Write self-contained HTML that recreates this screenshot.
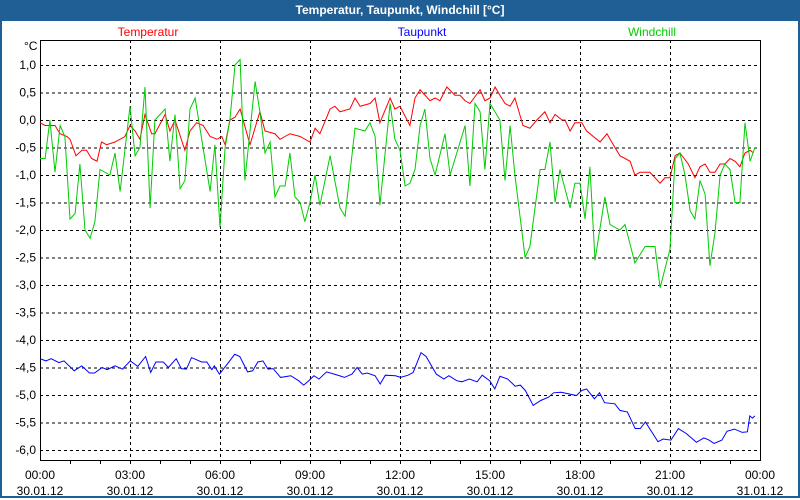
<!DOCTYPE html>
<html><head><meta charset="utf-8"><style>
body{margin:0;width:800px;height:500px;overflow:hidden;background:#fff;font-family:"Liberation Sans",sans-serif}
#frame{position:absolute;left:0;top:0;width:796px;height:496px;border:2px solid #1f5f96;border-top:none}
#titlebar{position:absolute;left:0;top:0;width:800px;height:21px;background:#1f5f96;color:#fff;font-weight:bold;font-size:12px;text-align:center;line-height:21px}
svg{position:absolute;left:0;top:0}
</style></head><body>
<div id="frame"></div>
<div id="titlebar">Temperatur, Taupunkt, Windchill [°C]</div>
<svg id="chart" width="800" height="500"></svg>
<script>
const yTicks=[1.0,0.5,0.0,-0.5,-1.0,-1.5,-2.0,-2.5,-3.0,-3.5,-4.0,-4.5,-5.0,-5.5,-6.0];
const xTickHours=[0,3,6,9,12,15,18,21,24];
const xTickTimes=["00:00","03:00","06:00","09:00","12:00","15:00","18:00","21:00","00:00"];
const xTickDates=["30.01.12","30.01.12","30.01.12","30.01.12","30.01.12","30.01.12","30.01.12","30.01.12","31.01.12"];
const seriesNames=["Temperatur","Taupunkt","Windchill"];
const tempT=[0,0.17,0.5,0.67,0.9,1,1.2,1.4,1.55,1.72,1.9,2.05,2.22,2.5,2.83,3,3.17,3.33,3.5,3.72,3.83,4.17,4.33,4.5,4.83,5,5.22,5.44,5.67,5.9,6.06,6.17,6.33,6.5,6.67,7,7.33,7.5,7.83,8,8.33,8.67,9,9.17,9.33,9.67,9.83,10,10.33,10.5,10.67,11,11.17,11.33,11.67,11.83,12,12.33,12.5,12.67,13,13.17,13.33,13.56,13.83,14,14.17,14.33,14.67,14.83,15,15.17,15.33,15.5,15.67,15.83,16.1,16.33,16.56,16.83,17,17.17,17.4,17.5,17.67,17.83,18.06,18.22,18.67,18.9,19.11,19.33,19.67,19.83,20,20.33,20.67,20.83,21,21.17,21.33,21.61,21.83,22,22.17,22.33,22.5,22.67,22.83,23,23.17,23.33,23.5,23.67,23.78];
const tempV=[-0.05,-0.1,-0.1,-0.25,-0.3,-0.35,-0.65,-0.55,-0.55,-0.7,-0.75,-0.4,-0.45,-0.4,-0.3,-0.1,-0.2,-0.35,0.1,-0.25,-0.25,0.1,-0.2,0,-0.55,-0.2,-0.05,-0.1,-0.3,-0.35,-0.3,-0.45,0,0.05,0.2,-0.45,0.15,-0.2,-0.25,-0.35,-0.25,-0.3,-0.4,-0.15,-0.25,0.2,0.25,0.15,0.2,0.4,0.25,0.3,0.4,-0.05,0.4,0.2,0.25,-0.1,0.4,0.55,0.35,0.4,0.35,0.6,0.45,0.45,0.35,0.3,0.55,0.35,0.4,0.6,0.45,0.3,0.25,0.4,-0.1,-0.15,0,0.15,-0.05,0.1,0,0,-0.2,-0.05,-0.05,-0.2,-0.4,-0.25,-0.45,-0.65,-0.75,-1.0,-0.95,-0.95,-1.15,-1.05,-1.05,-0.65,-0.6,-0.8,-1.05,-0.85,-0.8,-0.95,-0.95,-0.8,-0.8,-0.7,-0.75,-0.85,-0.6,-0.55,-0.6];
const dewT=[0,0.2,0.37,0.63,0.8,1.14,1.39,1.65,1.82,2.07,2.24,2.5,2.75,3.01,3.26,3.52,3.69,3.86,4.11,4.28,4.54,4.71,4.88,5.05,5.39,5.56,5.73,5.81,5.98,6.24,6.49,6.66,6.92,7.09,7.26,7.43,7.6,7.77,8.02,8.36,8.62,8.79,8.96,9.13,9.3,9.55,9.81,10.15,10.4,10.57,10.74,10.91,11.17,11.34,11.51,11.85,12.02,12.27,12.44,12.7,12.87,13.21,13.46,13.63,13.89,14.06,14.31,14.57,14.74,14.99,15.16,15.33,15.59,15.84,16.01,16.18,16.44,16.69,16.95,17.12,17.37,17.63,17.88,18.05,18.22,18.48,18.65,18.82,19.16,19.33,19.58,19.84,20.01,20.18,20.6,20.77,21.03,21.28,21.54,21.88,22.13,22.3,22.47,22.73,22.9,23.15,23.41,23.58,23.66,23.75,23.83];
const dewV=[-4.34,-4.38,-4.34,-4.41,-4.38,-4.56,-4.47,-4.6,-4.6,-4.5,-4.54,-4.47,-4.53,-4.38,-4.48,-4.3,-4.59,-4.4,-4.4,-4.5,-4.34,-4.52,-4.53,-4.32,-4.4,-4.4,-4.54,-4.47,-4.62,-4.44,-4.26,-4.3,-4.58,-4.56,-4.4,-4.38,-4.53,-4.52,-4.68,-4.65,-4.74,-4.82,-4.74,-4.65,-4.71,-4.58,-4.62,-4.68,-4.62,-4.5,-4.62,-4.6,-4.65,-4.8,-4.64,-4.65,-4.68,-4.64,-4.59,-4.23,-4.3,-4.62,-4.71,-4.65,-4.74,-4.76,-4.71,-4.76,-4.64,-4.74,-4.89,-4.66,-4.71,-4.84,-4.82,-4.92,-5.19,-5.1,-5.04,-4.96,-4.95,-4.98,-5.01,-4.92,-4.89,-5.07,-4.96,-5.14,-5.16,-5.28,-5.31,-5.61,-5.61,-5.49,-5.85,-5.8,-5.82,-5.61,-5.7,-5.86,-5.78,-5.82,-5.88,-5.82,-5.66,-5.62,-5.68,-5.67,-5.38,-5.42,-5.38];
const windT=[0,0.17,0.33,0.5,0.67,0.83,1,1.17,1.33,1.5,1.67,1.83,2,2.33,2.5,2.67,3,3.17,3.33,3.5,3.67,3.83,4.17,4.33,4.5,4.67,4.83,5,5.17,5.67,5.83,6,6.17,6.33,6.5,6.67,6.83,7.17,7.33,7.5,7.67,7.83,8,8.17,8.33,8.5,8.67,8.83,9,9.17,9.33,9.67,10,10.17,10.5,10.83,11,11.17,11.33,11.67,11.83,12,12.17,12.33,12.5,12.67,12.83,13,13.17,13.5,13.67,14.17,14.33,14.5,14.67,14.83,15,15.33,15.5,15.67,15.83,16.17,16.33,16.67,16.83,17,17.17,17.33,17.67,17.83,18,18.17,18.33,18.5,18.83,19,19.33,19.5,19.83,20.17,20.5,20.67,21,21.17,21.33,21.5,21.67,21.83,22,22.17,22.33,22.5,22.67,22.83,23,23.17,23.33,23.5,23.67,23.83];
const windV=[-0.7,-0.7,0,-0.95,-0.1,-0.3,-1.8,-1.7,-0.8,-2.0,-2.15,-1.85,-0.9,-1.0,-0.6,-1.3,0.25,-0.65,-0.5,0.6,-1.6,0,0.2,-0.75,0.1,-1.25,-1.1,0.2,0.4,-1.3,-0.45,-1.95,-0.5,0,1.0,1.1,-1.1,0.7,0.15,-0.6,-0.4,-1.4,-1.2,-1.2,-0.6,-1.4,-1.5,-1.85,-1.5,-1.0,-1.55,-0.65,-1.6,-1.75,-0.15,-0.2,-0.05,-0.3,-1.55,0.3,-0.35,-0.55,-1.2,-1.15,-0.9,-0.1,0.2,-0.7,-1.0,-0.25,-1.0,-0.1,-1.2,0.3,0.15,-0.9,0.3,0,-1.1,-0.1,-1.0,-2.5,-2.3,-0.9,-0.9,-0.4,-1.5,-0.9,-1.6,-1.15,-1.15,-1.8,-0.85,-2.55,-1.4,-1.9,-2.0,-1.9,-2.6,-2.3,-2.3,-3.05,-2.35,-0.7,-0.6,-1.0,-1.65,-1.8,-1.1,-1.35,-2.65,-2.05,-1.0,-0.8,-0.9,-1.5,-1.5,-0.05,-0.75,-0.5];

const NS="http://www.w3.org/2000/svg";
const svg=document.getElementById('chart');
const L=40,R=760,T=40,B=460;
const xs=h=>L+h*(R-L)/24;
const ys=v=>120-v*55;
function mk(tag,attrs,parent){const e=document.createElementNS(NS,tag);for(const k in attrs)e.setAttribute(k,attrs[k]);(parent||svg).appendChild(e);return e;}
const grid=mk('g',{});


yTicks.forEach(v=>{
  const ln=mk('line',{x1:L,x2:R,y1:ys(v)+0.5,y2:ys(v)+0.5,stroke:'#000','stroke-dasharray':'3,3','stroke-width':1},grid);
  
  
  const t=mk('text',{x:36,y:ys(v)+4,'text-anchor':'end','font-size':12,fill:'#000'});
  t.textContent=v.toFixed(1).replace('.',',');
  
  
});
xTickHours.forEach((h,i)=>{
  if(h>0&&h<24){const ln=mk('line',{x1:xs(h)+0.5,x2:xs(h)+0.5,y1:T,y2:B,stroke:'#000','stroke-dasharray':'3,3'},grid);
  
  }
  const t1=mk('text',{x:xs(h),y:479,'text-anchor':'middle','font-size':12,fill:'#000'});
  t1.textContent=xTickTimes[i];
  
  
  const t2=mk('text',{x:xs(h),y:495,'text-anchor':'middle','font-size':12,fill:'#000'});
  t2.textContent=xTickDates[i];
  
  
});
for(let h=1;h<24;h++){const tk=mk('line',{x1:xs(h)+0.5,x2:xs(h)+0.5,y1:B,y2:B+4,stroke:'#000'});
  
  }
const fr=mk('rect',{x:L+0.5,y:T+0.5,width:R-L,height:B-T,fill:'none',stroke:'#000'});


const unit=mk('text',{x:24,y:50,'font-size':12,fill:'#000'});
unit.textContent='°C';


function line(T_,V,col,name){
  const p=mk('polyline',{points:T_.map((h,i)=>xs(h)+','+ys(V[i])).join(' '),fill:'none',stroke:col,'stroke-width':1});
  
  
}
line(dewT,dewV,'#0000ff','taupunkt-line');
line(tempT,tempV,'#ff0000','temperatur-line');
line(windT,windV,'#00cc00','windchill-line');
const legX=[148,422,652],legC=['#ff0000','#0000ff','#00cc00'];
seriesNames.forEach((n,i)=>{const t=mk('text',{x:legX[i],y:36,'text-anchor':'middle','font-size':12,fill:legC[i]});
  t.textContent=n;
  
  });
</script>
</body></html>
